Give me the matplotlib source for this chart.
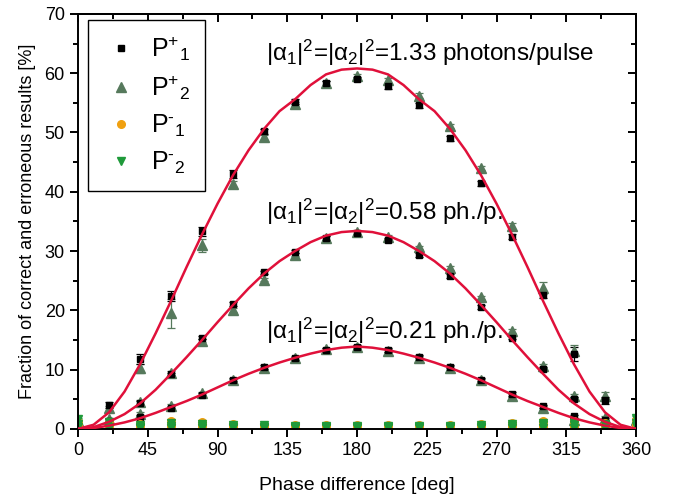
import numpy as np
import matplotlib
matplotlib.use('Agg')
import matplotlib.pyplot as plt
from matplotlib.lines import Line2D
from matplotlib.ticker import MultipleLocator

plt.rcParams['font.family'] = ['Liberation Sans', 'DejaVu Sans']
plt.rcParams['mathtext.fontset'] = 'custom'
plt.rcParams['mathtext.rm'] = 'Liberation Sans'
plt.rcParams['mathtext.it'] = 'Liberation Sans'
plt.rcParams['mathtext.bf'] = 'Liberation Sans:bold'

# measured points, phase 0..360 step 20
phase = np.arange(0, 361, 20)

# P+ (correct results), three mean photon numbers
pp1_hi = [0.8, 4.0, 11.8, 22.4, 33.3, 43.0, 50.2, 55.2, 58.3, 59.0, 57.8, 54.6, 49.0, 41.4, 32.4, 22.6, 12.6, 4.8, 1.0]
pp2_hi = [1.3, 3.5, 10.2, 19.5, 31.0, 41.3, 49.2, 54.8, 58.3, 59.5, 58.8, 56.2, 51.1, 44.0, 34.3, 23.7, 13.2, 5.5, 1.5]
pp1_mid = [0.4, 1.4, 4.4, 9.2, 15.4, 21.1, 26.4, 29.9, 32.2, 33.0, 31.9, 29.3, 25.8, 20.6, 15.4, 10.1, 5.1, 1.5, 0.5]
pp2_mid = [0.6, 1.6, 4.5, 9.4, 14.9, 20.1, 25.2, 29.4, 32.2, 33.2, 32.4, 30.6, 27.1, 22.2, 16.5, 10.6, 5.6, 1.8, 0.8]
pp1_lo = [0.2, 0.6, 2.0, 3.6, 5.8, 8.3, 10.4, 11.9, 13.3, 13.8, 13.3, 12.2, 10.5, 8.3, 5.9, 3.8, 2.1, 0.6, 0.3]
pp2_lo = [0.3, 0.7, 2.5, 3.9, 6.0, 8.2, 10.2, 12.0, 13.4, 13.9, 13.2, 12.0, 10.3, 8.2, 5.6, 3.5, 1.5, 0.5, 0.4]

err1_hi = [0.3, 0.5, 0.8, 0.9, 0.8, 0.6, 0.4, 0.4, 0.4, 0.3, 0.4, 0.4, 0.4, 0.4, 0.4, 0.5, 1.2, 0.6, 0.3]
err2_hi = [0.3, 0.4, 0.7, 2.4, 1.1, 0.5, 0.4, 0.4, 0.4, 0.3, 0.4, 0.4, 0.4, 0.4, 0.5, 1.0, 0.9, 0.7, 0.4]
err_small = [0.3] * 19

# P- (erroneous results)
pm1_hi = [1.2, 1.0, 0.8, 1.3, 1.2, 0.9, 0.7, 0.6, 0.6, 0.6, 0.6, 0.6, 0.6, 0.8, 1.0, 1.3, 1.3, 1.0, 1.5]
pm1_mid = [0.6, 0.5, 0.5, 0.8, 0.8, 0.6, 0.4, 0.4, 0.4, 0.4, 0.4, 0.4, 0.4, 0.5, 0.7, 0.9, 0.9, 0.8, 0.9]
pm1_lo = [0.3, 0.2, 0.2, 0.3, 0.3, 0.2, 0.2, 0.2, 0.2, 0.2, 0.2, 0.2, 0.2, 0.2, 0.3, 0.3, 0.4, 0.3, 0.4]
pm2_hi = [1.6, 1.1, 0.7, 1.0, 0.9, 0.7, 0.6, 0.5, 0.5, 0.5, 0.5, 0.5, 0.5, 0.6, 0.8, 1.0, 1.0, 0.9, 1.8]
pm2_mid = [0.8, 0.4, 0.4, 0.5, 0.5, 0.4, 0.3, 0.3, 0.3, 0.3, 0.3, 0.3, 0.3, 0.4, 0.5, 0.6, 0.6, 0.6, 1.0]
pm2_lo = [0.4, 0.2, 0.1, 0.2, 0.2, 0.1, 0.1, 0.1, 0.1, 0.1, 0.1, 0.1, 0.1, 0.1, 0.2, 0.2, 0.2, 0.2, 0.5]

# theory curves, phase 0..360 step 10
phase_fit = np.arange(0, 361, 10)
fit_hi = [0, 0.7, 2.8, 6.3, 10.9, 16.1, 21.6, 27.3, 32.8, 38.0, 42.8, 47.0, 50.6, 53.6, 55.6, 58.0, 59.8, 60.6, 60.8,
          60.6, 59.8, 58.0, 55.6, 53.6, 50.6, 47.0, 42.8, 38.0, 32.8, 27.3, 21.6, 16.1, 10.9, 6.3, 2.8, 0.7, 0]
fit_mid = [0, 0.3, 1.2, 2.5, 4.3, 6.6, 9.3, 12.1, 15.0, 18.0, 20.9, 23.7, 26.2, 28.3, 30.0, 31.5, 32.6, 33.2, 33.4,
           33.2, 32.6, 31.5, 30.0, 28.3, 26.2, 23.7, 20.9, 18.0, 15.0, 12.1, 9.3, 6.6, 4.3, 2.5, 1.2, 0.3, 0]
fit_lo = [0, 0.15, 0.55, 1.1, 1.8, 2.7, 3.7, 4.7, 5.8, 7.0, 8.2, 9.3, 10.3, 11.2, 12.0, 12.7, 13.3, 13.7, 13.9,
          13.7, 13.3, 12.7, 12.0, 11.2, 10.3, 9.3, 8.2, 7.0, 5.8, 4.7, 3.7, 2.7, 1.8, 1.1, 0.55, 0.15, 0]

labels = [r'P$^{+}{}_{1}$', r'P$^{+}{}_{2}$', 'P$^{\u2010}{}_{1}$', 'P$^{\u2010}{}_{2}$']
c_sq = 'black'
c_tri = '#56795c'
c_circ = '#f0a010'
c_dn = '#1f9a3a'
c_fit = '#e0103a'

fig = plt.figure(figsize=(6.73, 4.97), dpi=100)
ax = fig.add_axes([0.116, 0.137, 0.829, 0.835])

for y in (fit_hi, fit_mid, fit_lo):
    ax.plot(phase_fit, y, color=c_fit, lw=1.8, zorder=3)

eb = dict(ls='none', capsize=3, elinewidth=0.9, capthick=0.9)
for y, e in ((pp2_hi, err2_hi), (pp2_mid, err_small), (pp2_lo, err_small)):
    ax.errorbar(phase, y, yerr=e, fmt='^', ms=6.5, color=c_tri, ecolor=c_tri, zorder=2, **eb)
for y, e in ((pp1_hi, err1_hi), (pp1_mid, err_small), (pp1_lo, err_small)):
    ax.errorbar(phase, y, yerr=e, fmt='s', ms=5, color=c_sq, ecolor=c_sq, zorder=2, **eb)
for y in (pm1_hi, pm1_mid, pm1_lo):
    ax.errorbar(phase, y, yerr=err_small, fmt='o', ms=5.5, color=c_circ, ecolor=c_circ, zorder=2, **eb)
for y in (pm2_hi, pm2_mid, pm2_lo):
    ax.errorbar(phase, y, yerr=err_small, fmt='v', ms=6, color=c_dn, ecolor=c_dn, zorder=2, **eb)

ax.set_xlim(0, 360)
ax.set_ylim(0, 70)
ax.xaxis.set_major_locator(MultipleLocator(45))
ax.xaxis.set_minor_locator(MultipleLocator(22.5))
ax.yaxis.set_major_locator(MultipleLocator(10))
ax.yaxis.set_minor_locator(MultipleLocator(5))
ax.tick_params(which='major', direction='out', length=6, width=1.4, labelsize=13)
ax.tick_params(which='minor', direction='out', length=3.5, width=1.4)
for s in ax.spines.values():
    s.set_linewidth(1.4)

top = ax.secondary_xaxis('top')
top.xaxis.set_major_locator(MultipleLocator(45))
top.xaxis.set_minor_locator(MultipleLocator(22.5))
top.tick_params(which='major', direction='in', length=6, width=1.4, labeltop=False)
top.tick_params(which='minor', direction='in', length=3.5, width=1.4)
right = ax.secondary_yaxis('right')
right.yaxis.set_major_locator(MultipleLocator(10))
right.yaxis.set_minor_locator(MultipleLocator(5))
right.tick_params(which='major', direction='in', length=6, width=1.4, labelright=False)
right.tick_params(which='minor', direction='in', length=3.5, width=1.4)
top.spines['top'].set_linewidth(1.4)
right.spines['right'].set_linewidth(1.4)

ax.set_xlabel('Phase difference [deg]', fontsize=14, labelpad=13)
ax.set_ylabel('Fraction of correct and erroneous results [%]', fontsize=13, labelpad=6)

amp = r'$|\alpha_{1}|^{2}$=$|\alpha_{2}|^{2}$='
ax.text(121, 63.4, amp + '1.33 photons/pulse', fontsize=17.5, va='center', ha='left')
ax.text(121, 36.6, amp + '0.58 ph./p.', fontsize=17.5, va='center', ha='left')
ax.text(121, 16.6, amp + '0.21 ph./p.', fontsize=17.5, va='center', ha='left')

handles = [Line2D([], [], ls='none', marker='s', ms=5, color=c_sq),
           Line2D([], [], ls='none', marker='^', ms=6.5, color=c_tri),
           Line2D([], [], ls='none', marker='o', ms=5.5, color=c_circ),
           Line2D([], [], ls='none', marker='v', ms=6, color=c_dn)]
leg = ax.legend(handles, labels, loc='upper left', bbox_to_anchor=(0.018, 0.986), borderaxespad=0,
                fontsize=18, fancybox=False, framealpha=1, edgecolor='black',
                handlelength=1.4, handletextpad=0.5, labelspacing=0.42, borderpad=0.6)
leg.get_frame().set_linewidth(1.0)

fig.savefig('out.png', dpi=100)
